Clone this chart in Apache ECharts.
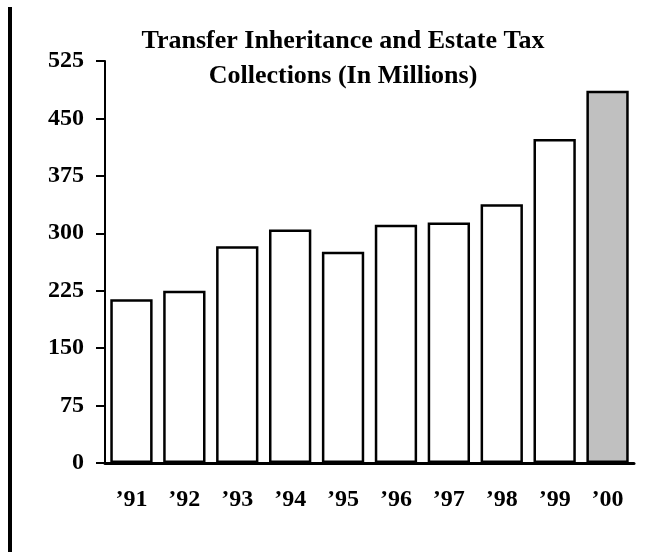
<!DOCTYPE html>
<html>
<head>
<meta charset="utf-8">
<script src="https://cdn.jsdelivr.net/npm/echarts@6/dist/echarts.min.js"></script>
<style>html,body{margin:0;padding:0;background:#fff;}#c{width:652px;height:552px;}</style>
</head>
<body>
<div id="c"></div>
<script>
const categories = ["\u201991","\u201992","\u201993","\u201994","\u201995","\u201996","\u201997","\u201998","\u201999","\u201900"];
const values = [214, 225, 283, 305, 276, 311, 314, 338, 423, 486];
const yTicks = {min: 0, max: 525, interval: 75};
const highlightIndex = 9;

const font = '"Liberation Serif", "Times New Roman", serif';
const chart = echarts.init(document.getElementById('c'));
chart.setOption({
  backgroundColor: '#fff',
  animation: false,
  title: {
    text: 'Transfer Inheritance and Estate Tax\nCollections (In Millions)',
    left: 338, top: 19, textAlign: 'center',
    textStyle: {fontFamily: font, fontWeight: 'bold', fontSize: 26, color: '#000', lineHeight: 35}
  },
  grid: {left: 105, right: 18, top: 61, bottom: 89},
  xAxis: {
    type: 'category', data: categories,
    axisLine: {lineStyle: {color: '#000', width: 3}},
    axisTick: {show: false},
    axisLabel: {fontFamily: font, fontWeight: 'bold', fontSize: 24, color: '#000', margin: 25}
  },
  yAxis: {
    type: 'value', min: yTicks.min, max: yTicks.max, interval: yTicks.interval,
    axisLine: {show: true, lineStyle: {color: '#000', width: 2}},
    axisTick: {show: true, length: 9, lineStyle: {color: '#000', width: 2}},
    splitLine: {show: false},
    axisLabel: {fontFamily: font, fontWeight: 'bold', fontSize: 24, color: '#000', margin: 21}
  },
  series: [{
    type: 'bar',
    data: values.map((v, i) => ({value: v, itemStyle: {color: i === highlightIndex ? '#c0c0c0' : '#fff'}})),
    barCategoryGap: '20%',
    itemStyle: {borderColor: '#000', borderWidth: 2.5}
  }],
  graphic: [{
    type: 'rect', shape: {x: 8, y: 7, width: 4, height: 545},
    style: {fill: '#000'}
  }]
});
</script>
</body>
</html>
